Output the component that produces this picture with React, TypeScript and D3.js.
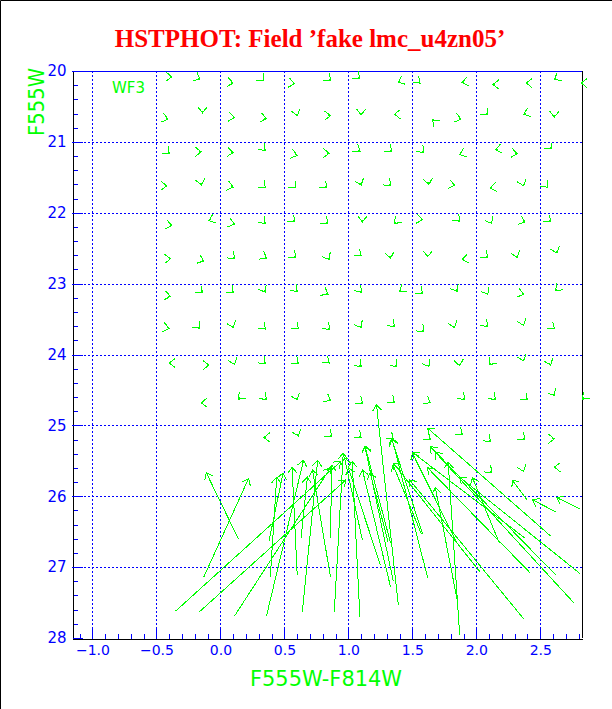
import * as d3 from "d3";
import React, { useEffect, useRef } from "react";

// tick values
const xTicks = [-1, -0.5, 0, 0.5, 1, 1.5, 2, 2.5];
const yTicks = [20, 21, 22, 23, 24, 25, 26, 27, 28];
const xMinor = d3.range(-11, 29).map((i) => i / 10);
const yMinor = d3.range(100, 141).map((i) => i / 5);

// fake stars with tiny shifts: [colour, mag, shift direction (deg, screen)]
const smallShifts: [number, number, number][] = [
  [-0.38, 20.08, 0], [-0.16, 20.12, 30], [0.10, 20.17, 10], [0.34, 20.14, 45], [0.58, 20.18, 10], [0.86, 20.14, 45], [1.09, 20.11, 40], [1.39, 20.16, 157], [1.56, 20.17, 40], [1.89, 20.16, 170], [2.13, 20.19, 180], [2.39, 20.17, 180], [2.61, 20.12, 150], [2.82, 20.17, 180],
  [-0.41, 20.68, 15], [-0.14, 20.59, 90], [0.11, 20.66, 10], [0.36, 20.67, 10], [0.60, 20.63, 75], [0.86, 20.63, 0], [1.10, 20.62, 90], [1.36, 20.61, 180], [1.66, 20.69, -135], [1.88, 20.68, 15], [2.09, 20.62, 45], [2.37, 20.61, 160], [2.61, 20.65, 90],
  [-0.40, 21.17, 45], [-0.15, 21.14, 0], [0.10, 21.15, 5], [0.35, 21.12, 45], [0.60, 21.19, 15], [0.85, 21.16, 0], [1.09, 21.13, 35], [1.34, 21.14, 40], [1.59, 21.15, 45], [1.87, 21.18, 160], [2.15, 21.11, 170], [2.32, 21.17, 10], [2.59, 21.10, 45],
  [-0.42, 21.62, 0], [-0.15, 21.61, 80], [0.10, 21.64, 15], [0.35, 21.65, 45], [0.59, 21.65, 45], [0.83, 21.65, 45], [1.10, 21.61, 70], [1.33, 21.62, 45], [1.63, 21.60, 80], [1.83, 21.61, 10], [2.11, 21.65, 170], [2.37, 21.62, 70], [2.56, 21.64, 45],
  [-0.38, 22.18, 10], [-0.09, 22.11, 160], [0.11, 22.16, 15], [0.35, 22.15, 45], [0.58, 22.13, 45], [0.84, 22.15, 40], [1.11, 22.13, 90], [1.36, 22.15, 135], [1.58, 22.10, 10], [1.87, 22.12, 45], [2.12, 22.15, 60], [2.38, 22.13, 20], [2.58, 22.13, 45],
  [-0.39, 22.65, 0], [-0.13, 22.68, 20], [0.11, 22.65, 45], [0.36, 22.64, 30], [0.59, 22.63, 40], [0.85, 22.66, 60], [1.10, 22.61, 40], [1.33, 22.64, 80], [1.62, 22.62, 90], [1.89, 22.66, 170], [2.09, 22.63, 40], [2.32, 22.63, 70], [2.63, 22.57, 70],
  [-0.39, 23.18, 10], [-0.14, 23.13, 40], [0.10, 23.13, 45], [0.35, 23.12, 60], [0.60, 23.11, 45], [0.84, 23.15, 30], [1.10, 23.12, 50], [1.40, 23.11, 145], [1.58, 23.14, 40], [1.85, 23.11, 60], [2.09, 23.15, 60], [2.37, 23.15, 15], [2.62, 23.10, 135],
  [-0.40, 23.63, 10], [-0.16, 23.63, 45], [0.10, 23.62, 70], [0.35, 23.64, 45], [0.61, 23.64, 40], [0.85, 23.65, 50], [1.10, 23.62, 60], [1.36, 23.60, 40], [1.59, 23.68, 45], [1.83, 23.62, 70], [2.09, 23.60, 40], [2.37, 23.59, 70], [2.61, 23.64, 40],
  [-0.40, 24.12, 180], [-0.09, 24.15, 0], [0.11, 24.14, 70], [0.35, 24.13, 45], [0.61, 24.13, 40], [0.85, 24.12, 40], [1.10, 24.17, 45], [1.38, 24.17, 45], [1.63, 24.17, 60], [1.87, 24.16, 80], [2.10, 24.14, 135], [2.37, 24.09, 70], [2.58, 24.15, 70],
  [-0.15, 24.68, 180], [0.14, 24.63, 135], [0.36, 24.63, 40], [0.60, 24.64, 70], [0.86, 24.65, 30], [1.11, 24.69, 40], [1.36, 24.68, 40], [1.64, 24.68, 30], [1.91, 24.63, 40], [2.15, 24.63, 40], [2.40, 24.64, 40], [2.61, 24.58, 60], [2.83, 24.63, 135],
  [0.34, 25.17, 180], [0.61, 25.15, 70], [0.87, 25.16, 40], [1.10, 25.17, 40], [1.35, 25.19, 40], [1.64, 25.20, 40], [1.89, 25.13, 40], [2.11, 25.23, 45], [2.38, 25.20, 40], [2.61, 25.19, 0],
  [2.12, 25.67, 45], [2.37, 25.65, 70], [2.61, 25.59, 180],
];

// fake stars with large shifts: [colour in, mag in, colour out, mag out]
const bigShifts: [number, number, number, number][] = [
  [-0.35, 27.62, 0.94, 25.51], [-0.17, 27.64, 0.98, 25.77], [0.11, 27.69, 0.86, 25.60], [0.36, 27.69, 0.65, 25.49],
  [0.64, 27.63, 0.76, 25.49], [0.89, 27.63, 0.96, 25.39], [1.09, 27.70, 1.03, 25.51], [-0.13, 27.14, 0.22, 25.75],
  [0.14, 26.60, -0.11, 25.67], [0.39, 27.14, 0.44, 25.73], [0.38, 26.63, 0.49, 25.67], [0.60, 27.11, 0.56, 25.59],
  [0.63, 26.59, 0.68, 25.73], [0.86, 27.14, 0.72, 25.63], [0.86, 26.59, 0.87, 25.56], [1.11, 26.62, 0.97, 25.46],
  [1.25, 26.97, 1.00, 25.60], [1.33, 27.28, 1.11, 25.63], [1.33, 26.66, 1.13, 25.29],
  [1.39, 27.53, 1.22, 24.71], [1.35, 27.19, 1.13, 25.30], [1.62, 27.15, 1.34, 25.18], [1.58, 26.53, 1.34, 25.20],
  [1.31, 26.64, 1.17, 25.67], [1.85, 27.46, 1.68, 25.88], [1.87, 27.96, 1.78, 25.52], [2.03, 27.07, 1.35, 25.53],
  [2.58, 26.56, 1.62, 25.04], [2.38, 26.59, 1.50, 25.38], [2.62, 27.11, 1.64, 25.30], [2.76, 27.50, 1.68, 25.38],
  [2.42, 27.08, 1.62, 25.60], [2.37, 27.73, 1.48, 25.77], [2.81, 27.09, 1.87, 25.73], [2.18, 26.66, 1.97, 25.74],
  [2.40, 26.06, 2.28, 25.77], [2.62, 26.22, 2.44, 26.05], [2.81, 26.18, 2.63, 26.02], [1.57, 26.53, 1.35, 25.56],
  [1.85, 26.66, 1.50, 25.39],
];

const W = 612, H = 709;
const margin = { left: 72, right: 582, top: 71, bottom: 638 };
const GREEN = "#00ff00";
const BLUE = "#0000ff";

export default function App() {
  const svgRef = useRef<SVGSVGElement>(null);

  useEffect(() => {
    const svg = d3.select(svgRef.current);
    svg.selectAll("*").remove();

    const x = d3.scaleLinear().domain([-1.16, 2.826]).range([margin.left, margin.right]);
    const y = d3.scaleLinear().domain([20, 28]).range([margin.top, margin.bottom]);

    svg.append("rect").attr("width", W).attr("height", H).attr("fill", "#fff");
    // page frame (left and top only)
    svg.append("path").attr("d", `M0.5,${H}V0.5H${W}`).attr("stroke", "#000").attr("fill", "none");

    // title
    svg.append("text")
      .attr("x", 310).attr("y", 47)
      .attr("text-anchor", "middle")
      .style("font-family", "'Liberation Serif', serif")
      .style("font-weight", "bold")
      .style("font-size", "25px")
      .style("fill", "#ff0000")
      .text("HSTPHOT: Field \u2019fake lmc_u4zn05\u2019");

    // dotted grid
    const grid = svg.append("g")
      .attr("stroke", BLUE).attr("stroke-dasharray", "2,2")
      .attr("shape-rendering", "crispEdges");
    xTicks.forEach((v) => {
      const px = Math.round(x(v)) + 0.5;
      grid.append("line").attr("x1", px).attr("x2", px).attr("y1", margin.top).attr("y2", margin.bottom);
    });
    yTicks.slice(1, -1).forEach((v) => {
      const py = Math.round(y(v)) + 0.5;
      grid.append("line").attr("x1", margin.left).attr("x2", margin.right).attr("y1", py).attr("y2", py);
    });

    // bottom axis
    const bottomG = svg.append("g").attr("transform", `translate(0,${margin.bottom + 0.5})`)
      .attr("shape-rendering", "crispEdges");
    bottomG.append("g").call(d3.axisBottom(x).tickValues(xMinor).tickSize(-5).tickSizeOuter(0).tickFormat(() => ""));
    bottomG.append("g").call(d3.axisBottom(x).tickValues(xTicks).tickSize(-10).tickSizeOuter(0).tickPadding(7));
    bottomG.selectAll(".tick line").attr("stroke", BLUE);
    bottomG.selectAll(".domain").attr("stroke", "#000");
    bottomG.selectAll("text").style("fill", BLUE)
      .style("font-family", "'DejaVu Sans', sans-serif").style("font-size", "14px");

    // left axis
    const leftG = svg.append("g").attr("transform", `translate(${margin.left + 0.5},0)`)
      .attr("shape-rendering", "crispEdges");
    leftG.append("g").call(d3.axisLeft(y).tickValues(yMinor).tickSize(-5).tickSizeOuter(0).tickFormat(() => ""));
    leftG.append("g").call(d3.axisLeft(y).tickValues(yTicks).tickSize(-10).tickSizeOuter(0).tickPadding(6));
    leftG.selectAll(".tick line").attr("stroke", BLUE);
    leftG.selectAll(".domain").attr("stroke", "#000");
    leftG.selectAll("text").style("fill", BLUE)
      .style("font-family", "'DejaVu Sans', sans-serif").style("font-size", "15px");

    // top and right frame
    svg.append("line").attr("x1", margin.left).attr("x2", margin.right)
      .attr("y1", margin.top + 0.5).attr("y2", margin.top + 0.5).attr("stroke", BLUE);
    svg.append("line").attr("x1", margin.right + 0.5).attr("x2", margin.right + 0.5)
      .attr("y1", margin.top).attr("y2", margin.bottom).attr("stroke", "#000");

    // axis titles
    svg.append("text")
      .attr("x", 326).attr("y", 686)
      .attr("text-anchor", "middle")
      .attr("textLength", 152).attr("lengthAdjust", "spacingAndGlyphs")
      .style("font-family", "'DejaVu Sans', sans-serif").style("font-size", "22px")
      .style("fill", GREEN).text("F555W-F814W");
    svg.append("text")
      .attr("transform", `translate(44,${margin.top - 3}) rotate(-90)`)
      .attr("text-anchor", "end")
      .attr("textLength", 68).attr("lengthAdjust", "spacingAndGlyphs")
      .style("font-family", "'DejaVu Sans', sans-serif").style("font-size", "22px")
      .style("fill", GREEN).text("F555W");
    svg.append("text")
      .attr("x", 112).attr("y", 93)
      .style("font-family", "'DejaVu Sans', sans-serif").style("font-size", "15px")
      .style("fill", GREEN).text("WF3");

    // arrows
    const head = 7.5, half = (38 * Math.PI) / 180;
    const arrowPath = (tx: number, ty: number, hx: number, hy: number) => {
      const a = Math.atan2(hy - ty, hx - tx);
      const b1x = hx - head * Math.cos(a - half), b1y = hy - head * Math.sin(a - half);
      const b2x = hx - head * Math.cos(a + half), b2y = hy - head * Math.sin(a + half);
      return `M${tx},${ty}L${hx},${hy}M${b1x},${b1y}L${hx},${hy}L${b2x},${b2y}`;
    };
    const arrows = svg.append("g").attr("stroke", GREEN).attr("fill", "none")
      .attr("stroke-width", 1).attr("shape-rendering", "crispEdges");

    arrows.selectAll("path.small")
      .data(smallShifts)
      .enter().append("path")
      .attr("class", "small")
      .attr("d", (d) => {
        const hx = x(d[0]), hy = y(d[1]);
        const a = (d[2] * Math.PI) / 180;
        return arrowPath(hx - 2 * Math.cos(a), hy - 2 * Math.sin(a), hx, hy);
      });

    arrows.selectAll("path.big")
      .data(bigShifts)
      .enter().append("path")
      .attr("class", "big")
      .attr("d", (d) => arrowPath(x(d[0]), y(d[1]), x(d[2]), y(d[3])));
  }, []);

  return (
    <svg
      ref={svgRef}
      width={W}
      height={H}
      style={{ position: "absolute", left: 0, top: 0 }}
    />
  );
}
